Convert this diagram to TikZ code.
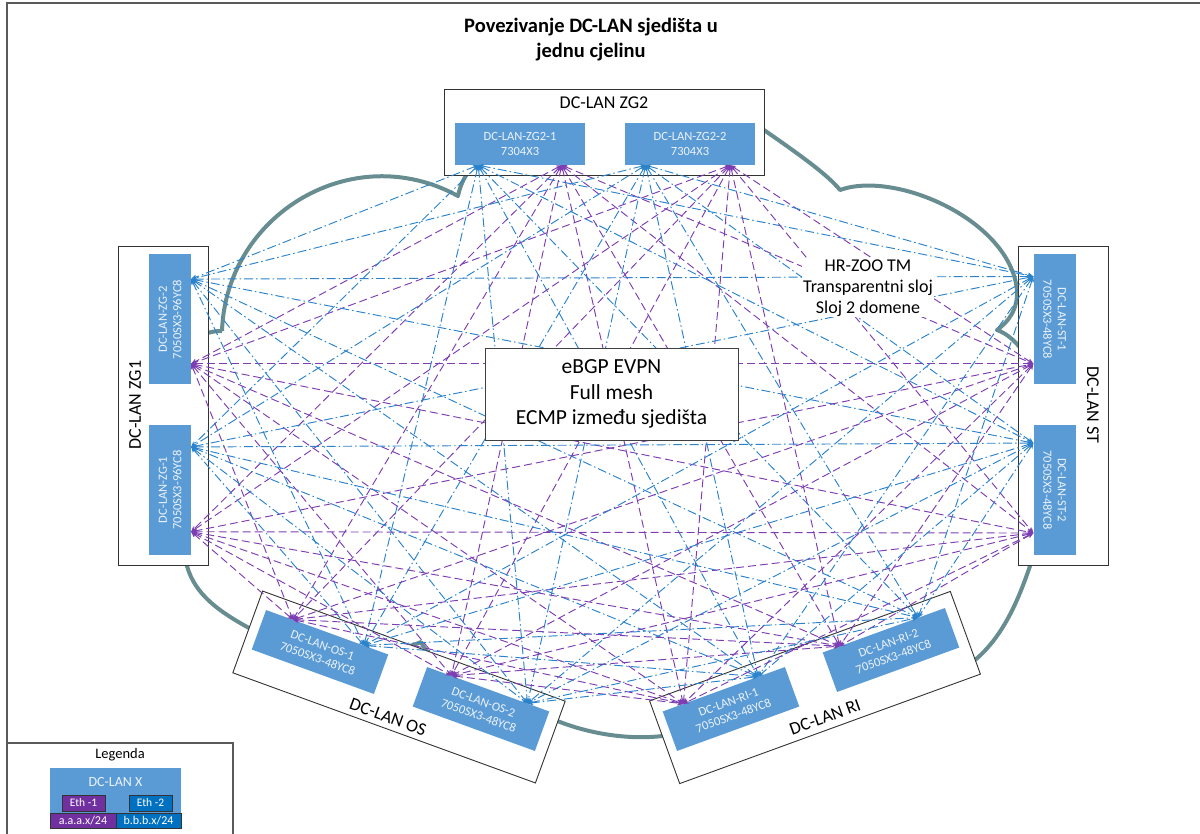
\documentclass[tikz,border=0pt]{standalone}
\usepackage{fontspec}
\setmainfont{Carlito}
\usetikzlibrary{arrows.meta,calc}

\definecolor{devblue}{RGB}{91,155,213}
\definecolor{devtext}{RGB}{236,243,251}
\definecolor{cloudgrey}{RGB}{104,141,145}
\definecolor{linkblue}{RGB}{43,131,204}
\definecolor{linkpurple}{RGB}{125,62,178}
\definecolor{ethpurple}{RGB}{112,48,160}
\definecolor{ethblue}{RGB}{0,112,192}
\definecolor{framegrey}{RGB}{90,90,90}

\begin{document}
\begin{tikzpicture}[x=1pt,y=-1pt,
  site/.style={draw=black!80, line width=0.9pt, fill=white, inner sep=0pt},
  dev/.style={fill=devblue, text=devtext, inner sep=0pt, align=center,
    font=\fontsize{12.5}{14.5}\selectfont, minimum width=130pt, minimum height=42pt},
  sitelabel/.style={font=\fontsize{18}{21}\selectfont, inner sep=0pt},
  link/.style={line width=0.95pt,
    {Stealth[length=5.5pt,width=5pt]}-{Stealth[length=5.5pt,width=5pt]}},
  purplelink/.style={link, draw=linkpurple, dash pattern=on 8pt off 4pt},
  bluelink/.style={link, draw=linkblue, dash pattern=on 9pt off 3pt on 1.5pt off 3pt},
  cloudline/.style={draw=cloudgrey, line width=4pt, line join=round},
  legbox/.style={draw=black!80, line width=0.6pt, text=white, inner sep=0pt}
]
\useasboundingbox (0,0) rectangle (1200,834);

% page frame
\draw[framegrey, line width=2pt] (7,845) -- (7,3) -- (1210,3);

% the transport network cloud
\draw[cloudline] (222,331)
  .. controls (226,215) and (352,138) .. (458,196)
  .. controls (475,110) and (676,70) .. (764,130)
  .. controls (800,155) and (828,175) .. (840,190)
  .. controls (895,170) and (1010,220) .. (1017,290)
  .. controls (1018,310) and (1008,322) .. (997,330)
  .. controls (1040,345) and (1075,450) .. (1030,566)
  .. controls (1020,595) and (1005,635) .. (975,660)
  .. controls (900,700) and (760,690) .. (740,700)
  .. controls (700,745) and (620,745) .. (560,722)
  .. controls (500,700) and (440,680) .. (421,642)
  .. controls (380,660) and (290,650) .. (249,628)
  .. controls (220,612) and (195,595) .. (187,566)
  .. controls (150,480) and (150,330) .. (222,331);

% sites
\node[site, minimum width=320pt, minimum height=86pt] (zg2) at (604,132) {};
\node[site, minimum width=90pt, minimum height=319pt] (zg1) at (163,405.5) {};
\node[site, minimum width=90pt, minimum height=319pt] (st) at (1063,405.5) {};
\node[site, minimum width=322pt, minimum height=87pt, rotate=-20] (os) at (399,687) {};
\node[site, minimum width=320pt, minimum height=88pt, rotate=20] (ri) at (815,687.5) {};

\node[sitelabel] (zg2lbl) at (604,103) {DC-LAN ZG2};
\node[sitelabel, rotate=90] (zg1lbl) at (135,405) {DC-LAN ZG1};
\node[sitelabel, rotate=-90] (stlbl) at (1093,405) {DC-LAN ST};
\node[sitelabel, rotate=-20] (oslbl) at (388,717) {DC-LAN OS};
\node[sitelabel, rotate=20] (rilbl) at (825,717) {DC-LAN RI};

% devices
\node[dev] (zg21) at (520,144) {DC-LAN-ZG2-1\\7304X3};
\node[dev] (zg22) at (690,144) {DC-LAN-ZG2-2\\7304X3};
\node[dev, rotate=90] (zgb) at (170,319.5) {DC-LAN-ZG-2\\7050SX3-96YC8};
\node[dev, rotate=90] (zga) at (170,490) {DC-LAN-ZG-1\\7050SX3-96YC8};
\node[dev, rotate=-90] (st1) at (1054.5,319.5) {DC-LAN-ST-1\\7050SX3-48YC8};
\node[dev, rotate=-90] (st2) at (1054.5,490) {DC-LAN-ST-2\\7050SX3-48YC8};
\node[dev, rotate=-20] (os1) at (320,652) {DC-LAN-OS-1\\7050SX3-48YC8};
\node[dev, rotate=-20] (os2) at (481,709) {DC-LAN-OS-2\\7050SX3-48YC8};
\node[dev, rotate=20] (ri1) at (731,709) {DC-LAN-RI-1\\7050SX3-48YC8};
\node[dev, rotate=20] (ri2) at (891,650) {DC-LAN-RI-2\\7050SX3-48YC8};

% ports: b = Eth-2 (blue), p = Eth-1 (purple)
\coordinate (b1) at ($(zg21.south west)!0.18!(zg21.south east)$);
\coordinate (p1) at ($(zg21.south west)!0.82!(zg21.south east)$);
\coordinate (b2) at ($(zg22.south west)!0.16!(zg22.south east)$);
\coordinate (p2) at ($(zg22.south west)!0.81!(zg22.south east)$);
\coordinate (b3) at ($(zgb.south east)!0.19!(zgb.south west)$);
\coordinate (p3) at ($(zgb.south east)!0.84!(zgb.south west)$);
\coordinate (b4) at ($(zga.south east)!0.17!(zga.south west)$);
\coordinate (p4) at ($(zga.south east)!0.82!(zga.south west)$);
\coordinate (b5) at ($(st1.south west)!0.17!(st1.south east)$);
\coordinate (p5) at ($(st1.south west)!0.84!(st1.south east)$);
\coordinate (b6) at ($(st2.south west)!0.14!(st2.south east)$);
\coordinate (p6) at ($(st2.south west)!0.83!(st2.south east)$);
\coordinate (p7) at ($(os1.north west)!0.22!(os1.north east)$);
\coordinate (b7) at ($(os1.north west)!0.80!(os1.north east)$);
\coordinate (p8) at ($(os2.north west)!0.20!(os2.north east)$);
\coordinate (b8) at ($(os2.north west)!0.82!(os2.north east)$);
\coordinate (p9) at ($(ri1.north west)!0.17!(ri1.north east)$);
\coordinate (b9) at ($(ri1.north west)!0.78!(ri1.north east)$);
\coordinate (p10) at ($(ri2.north west)!0.14!(ri2.north east)$);
\coordinate (b10) at ($(ri2.north west)!0.78!(ri2.north east)$);

% full mesh between devices of different sites
\foreach \i in {1,...,10}{
  \foreach \j in {1,...,10}{
    \pgfmathtruncatemacro{\si}{(\i+1)/2}
    \pgfmathtruncatemacro{\sj}{(\j+1)/2}
    \ifnum\i<\j
      \ifnum\si=\sj\else
        \draw[purplelink] (p\i) -- (p\j);
        \draw[bluelink] (b\i) -- (b\j);
      \fi
    \fi
  }
}

% annotations
\node[draw=black!75, line width=0.9pt, fill=white, minimum width=253pt, minimum height=92pt,
  align=center, font=\fontsize{21.5}{25.5}\selectfont, inner sep=0pt] (core) at (611.5,394)
  {eBGP EVPN\\Full mesh\\ECMP između sjedišta};
\node[fill=white, align=center, font=\fontsize{18}{21}\selectfont, inner sep=1pt] (hrzoo) at (868,288)
  {HR-ZOO TM\\Transparentni sloj\\Sloj 2 domene};

\node[align=center, font=\bfseries\fontsize{20.5}{25}\selectfont, inner sep=0pt] (title) at (591,40)
  {Povezivanje DC-LAN sjedišta u\\jednu cjelinu};

% legend
\draw[framegrey, line width=1.2pt] (7,743) -- (233,743) -- (233,845);
\node[font=\fontsize{14.5}{17}\selectfont, inner sep=0pt] (legtitle) at (120,755) {Legenda};
\node[fill=devblue, minimum width=131pt, minimum height=60pt, inner sep=0pt] (legdev) at (115.5,798) {};
\node[text=devtext, font=\fontsize{14}{16}\selectfont, inner sep=0pt] (legname) at (115.5,782) {DC-LAN X};
\node[legbox, fill=ethpurple, minimum width=43pt, minimum height=16pt,
  font=\fontsize{11.5}{13}\selectfont] (eth1) at (83.5,803) {Eth -1};
\node[legbox, fill=ethblue, minimum width=43pt, minimum height=16pt,
  font=\fontsize{11.5}{13}\selectfont] (eth2) at (150.5,803) {Eth -2};
\node[legbox, fill=ethpurple, minimum width=66pt, minimum height=15pt,
  font=\fontsize{12}{13}\selectfont] (net1) at (83,820.5) {a.a.a.x/24};
\node[legbox, fill=ethblue, minimum width=65pt, minimum height=15pt,
  font=\fontsize{12}{13}\selectfont] (net2) at (148.5,820.5) {b.b.b.x/24};
\end{tikzpicture}
\end{document}
